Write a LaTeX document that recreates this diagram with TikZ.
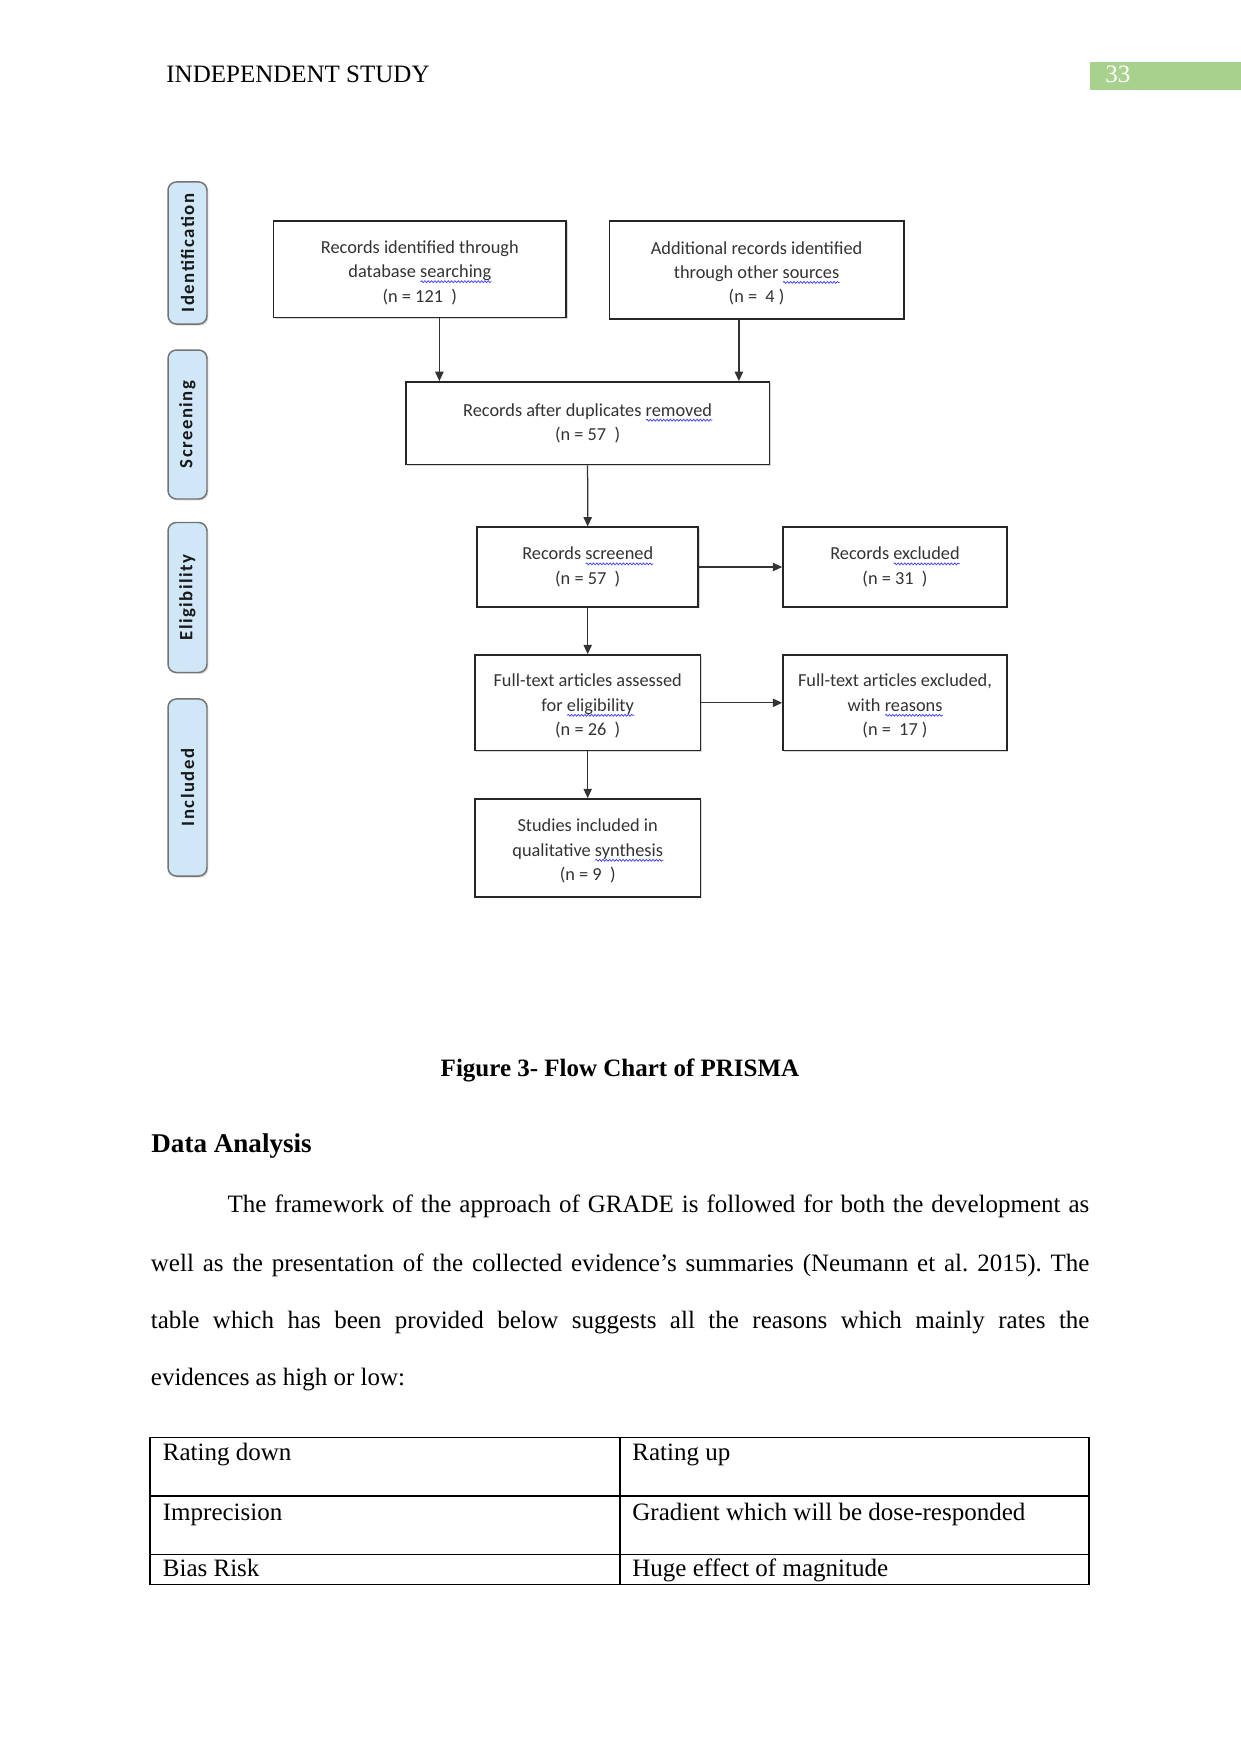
\documentclass[tikz,border=0pt]{standalone}
\usepackage{fontspec}
\setmainfont{Liberation Serif}
\newfontfamily\chartfont{Carlito}
\newfontfamily\tabfont[LetterSpace=8]{Carlito}
\usetikzlibrary{arrows.meta,shadows,decorations.pathmorphing}

\definecolor{tabblue}{RGB}{207,231,247}
\definecolor{pagegreen}{RGB}{169,209,142}
\definecolor{chartgray}{RGB}{51,51,51}

% blue wavy spell-check underline
\newlength{\spellwd}
\newcommand*{\spellwave}[1]{\settowidth{\spellwd}{#1}\rlap{\tikz[baseline=0pt]\draw[blue!75!white,line width=0.35pt,decorate,decoration={snake,amplitude=0.45pt,segment length=1.6pt}] (0pt,-1.9pt) -- (\spellwd,-1.9pt);}#1}
% pushes a three-line text a little down in its box
\newcommand*{\topgap}{\rule{0pt}{9.4pt}}

\frenchspacing

\begin{document}
\begin{tikzpicture}
[
	x=0.48pt,y=-0.48pt,
	box/.style={draw=black!85,line width=0.8pt,fill=white,align=center,inner sep=2pt,
		font=\chartfont\fontsize{8.8}{11.7}\selectfont,text=chartgray,
		drop shadow={shadow xshift=0.7pt,shadow yshift=-0.7pt,opacity=0.3}},
	tab/.style={draw=black!55,line width=0.7pt,fill=tabblue,rounded corners=4pt,rotate=90,
		minimum height=18.7pt,inner sep=1pt,font=\tabfont\bfseries\fontsize{9}{10}\selectfont,text=black!90,
		drop shadow={shadow xshift=0.7pt,shadow yshift=-0.7pt,opacity=0.3}},
	arr/.style={-{Triangle[length=4.5pt,width=4pt]},line width=0.6pt,draw=black!80},
	body/.style={anchor=base west,inner sep=0pt,font=\fontsize{12}{14}\selectfont}
]

	% page
	\fill[white] (0,0) rectangle (1241,1754);
	\useasboundingbox (0,0) rectangle (1241,1754);

	% running head
	\node[body] (runhead) at (166,82.7) {INDEPENDENT STUDY};
	\fill[pagegreen] (1090,61.5) rectangle (1241,89.5);
	\node[body,text=white] (pagenum) at (1105,82.7) {33};

	% phase tabs
	\node[tab,minimum width=68.2pt] (tabid) at (187.5,253) {Identification};
	\node[tab,minimum width=71.5pt] (tabscr) at (187.5,424.5) {Screening};
	\node[tab,minimum width=72pt] (tabelig) at (187.5,597.5) {Eligibility};
	\node[tab,minimum width=85pt] (tabincl) at (187.5,787.5) {Included};

	% boxes
	\node[box,minimum width=140.4pt,minimum height=46.3pt] (dbsearch) at (419.8,269.2)
		{\topgap Records identified through\\database \spellwave{searching}\\(n = 121~~)};
	\node[box,minimum width=141.2pt,minimum height=46.9pt] (othersrc) at (756.6,269.9)
		{\topgap Additional records identified\\through other \spellwave{sources}\\(n = ~4 )};
	\node[box,minimum width=174.5pt,minimum height=39.7pt] (dedup) at (587.6,423.3)
		{Records after duplicates \spellwave{removed}\\(n = 57~~)};
	\node[box,minimum width=106.1pt,minimum height=38.1pt] (screened) at (587.7,567)
		{Records \spellwave{screened}\\(n = 57~~)};
	\node[box,minimum width=107.5pt,minimum height=38.3pt] (excluded) at (895,567)
		{Records \spellwave{excluded}\\(n = 31~~)};
	\node[box,minimum width=108.2pt,minimum height=45.9pt] (fulltext) at (587.7,702.8)
		{\topgap Full-text articles assessed\\for \spellwave{eligibility}\\(n = 26~~)};
	\node[box,minimum width=107.5pt,minimum height=45.9pt] (ftexcl) at (895,702.8)
		{\topgap Full-text articles excluded,\\with \spellwave{reasons}\\(n = ~17 )};
	\node[box,minimum width=108.2pt,minimum height=46.9pt] (included) at (587.7,847.8)
		{\topgap Studies included in\\qualitative \spellwave{synthesis}\\(n = 9~~)};

	% arrows
	\draw[arr] ([xshift=9.4pt]dbsearch.south) -- ([xshift=9.4pt]dbsearch.south |- dedup.north);
	\draw[arr] ([xshift=-8.5pt]othersrc.south) -- ([xshift=-8.5pt]othersrc.south |- dedup.north);
	\draw[arr] (dedup.south) -- (screened.north);
	\draw[arr] (screened) -- (excluded);
	\draw[arr] (screened) -- (fulltext);
	\draw[arr] (fulltext) -- (ftexcl);
	\draw[arr] (fulltext) -- (included);

	% caption and text
	\node[anchor=base,inner sep=0pt,font=\bfseries\fontsize{12}{14}\selectfont] (caption) at (620,1076.7)
		{Figure 3- Flow Chart of PRISMA};
	\node[body,font=\bfseries\fontsize{13}{15}\selectfont] (heading) at (151,1152.7) {Data Analysis};
	\node[body] (line1) at (227.3,1212.7)
		{\makebox[413.6pt][s]{The framework of the approach of GRADE is followed for both the development as}};
	\node[body] (line2) at (150.5,1271)
		{\makebox[450.5pt][s]{well as the presentation of the collected evidence’s summaries (Neumann et al. 2015). The}};
	\node[body] (line3) at (150.5,1328.3)
		{\makebox[450.5pt][s]{table which has been provided below suggests all the reasons which mainly rates the}};
	\node[body] (line4) at (150.5,1385) {evidences as high or low:};

	% table
	\draw[line width=0.5pt] (150,1437.5) rectangle (1089,1584);
	\draw[line width=0.5pt] (150,1496) -- (1089,1496);
	\draw[line width=0.5pt] (150,1554.5) -- (1089,1554.5);
	\draw[line width=0.5pt] (620,1437.5) -- (620,1584);
	\node[body] (downhead) at (162.5,1460.5) {Rating down};
	\node[body] (uphead) at (632,1460.5) {Rating up};
	\node[body] (down1) at (162.5,1520) {Imprecision};
	\node[body] (up1) at (632,1520) {Gradient which will be dose-responded};
	\node[body] (down2) at (162.5,1576.7) {Bias Risk};
	\node[body] (up2) at (632,1576.7) {Huge effect of magnitude};

\end{tikzpicture}
\end{document}
